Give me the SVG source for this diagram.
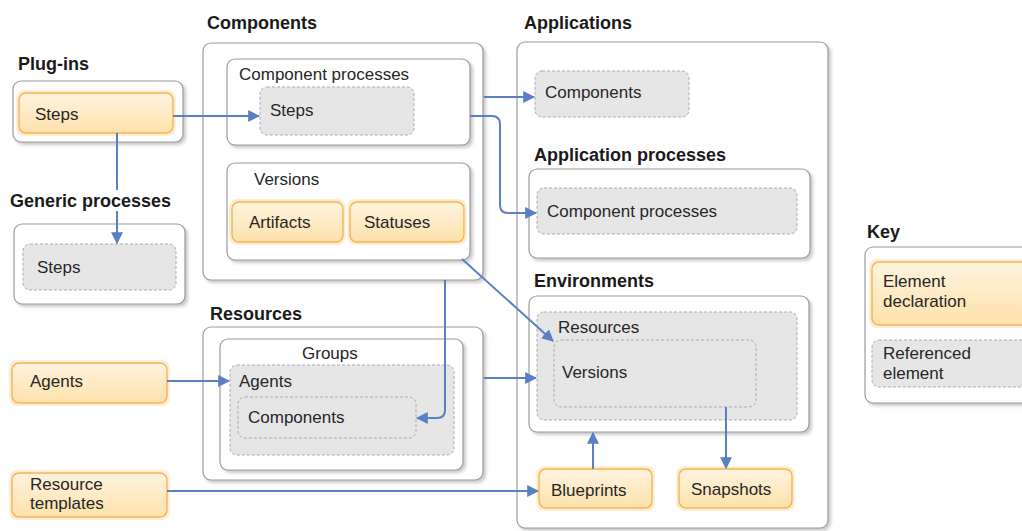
<svg xmlns="http://www.w3.org/2000/svg" width="1022" height="531" viewBox="0 0 1022 531">
  <defs>
    <style>
      .box { fill: #ffffff; stroke: #9c9c9c; stroke-width: 1.2; filter: url(#shadow); }
      .ref { fill: #e6e6e6; stroke: #ababab; stroke-width: 1; stroke-dasharray: 3 2; }
      .decl { fill: url(#orange); stroke: #f5b444; stroke-width: 1.4; filter: url(#glow); }
      .title { font-family: "Liberation Sans", Arial, sans-serif; font-weight: bold; font-size: 18px; fill: #1a1a1a; }
      .lbl { font-family: "Liberation Sans", Arial, sans-serif; font-size: 17px; fill: #262626; }
      .conn { fill: none; stroke: #5a7fc2; stroke-width: 2; }
    </style>
    <linearGradient id="orange" x1="0" y1="0" x2="0" y2="1">
      <stop offset="0" stop-color="#fff3de"/>
      <stop offset="1" stop-color="#fde1ab"/>
    </linearGradient>
    <filter id="shadow" x="-5%" y="-5%" width="115%" height="115%">
      <feDropShadow dx="2.5" dy="2.5" stdDeviation="1.5" flood-color="#8a8a8a" flood-opacity="0.45"/>
    </filter>
    <filter id="glow" x="-10%" y="-20%" width="120%" height="140%">
      <feMorphology in="SourceAlpha" operator="dilate" radius="2" result="d"/>
      <feFlood flood-color="#feead0"/>
      <feComposite in2="d" operator="in" result="g"/>
      <feMerge><feMergeNode in="g"/><feMergeNode in="SourceGraphic"/></feMerge>
    </filter>
    <marker id="arrow" viewBox="0 0 10 10" refX="9" refY="5" markerWidth="6" markerHeight="6" orient="auto" markerUnits="strokeWidth">
      <path d="M0,0 L10,5 L0,10 z" fill="#5a7fc2"/>
    </marker>
  </defs>

  <rect width="1022" height="531" fill="#ffffff"/>

  <!-- Plug-ins -->
  <g id="plugins">
    <text class="title" x="18" y="70">Plug-ins</text>
    <rect class="box" x="13" y="81" width="170" height="61" rx="8"/>
    <g id="plugins-steps">
      <rect class="decl" x="19" y="93" width="154" height="40" rx="7"/>
      <text class="lbl" x="35" y="120">Steps</text>
    </g>
  </g>

  <!-- Generic processes -->
  <g id="generic-processes">
    <text class="title" x="10" y="207">Generic processes</text>
    <rect class="box" x="14" y="224" width="171" height="80" rx="8"/>
    <g id="generic-steps">
      <rect class="ref" x="23" y="244" width="153" height="46" rx="7"/>
      <text class="lbl" x="37" y="273">Steps</text>
    </g>
  </g>

  <!-- Components -->
  <g id="components">
    <text class="title" x="207" y="29">Components</text>
    <rect class="box" x="203" y="43" width="280" height="237" rx="8"/>
    <g id="component-processes">
      <rect class="box" x="227" y="59" width="243" height="86" rx="8"/>
      <text class="lbl" x="239" y="80">Component processes</text>
      <g id="component-steps">
        <rect class="ref" x="260" y="87" width="154" height="48" rx="7"/>
        <text class="lbl" x="270" y="116">Steps</text>
      </g>
    </g>
    <g id="versions">
      <rect class="box" x="227" y="163" width="243" height="97" rx="8"/>
      <text class="lbl" x="254" y="185">Versions</text>
      <g id="artifacts">
        <rect class="decl" x="232" y="202" width="111" height="40" rx="7"/>
        <text class="lbl" x="249" y="228">Artifacts</text>
      </g>
      <g id="statuses">
        <rect class="decl" x="350" y="202" width="114" height="40" rx="7"/>
        <text class="lbl" x="364" y="228">Statuses</text>
      </g>
    </g>
  </g>

  <!-- Resources -->
  <g id="resources">
    <text class="title" x="210" y="320">Resources</text>
    <rect class="box" x="203" y="327" width="280" height="153" rx="8"/>
    <g id="groups">
      <rect class="box" x="220" y="339" width="243" height="131" rx="8"/>
      <text class="lbl" x="302" y="359">Groups</text>
      <g id="group-agents">
        <rect class="ref" x="230" y="365" width="224" height="90" rx="7"/>
        <text class="lbl" x="239" y="387">Agents</text>
      </g>
      <g id="group-components">
        <rect class="ref" x="238" y="397" width="178" height="41" rx="7"/>
        <text class="lbl" x="248" y="423">Components</text>
      </g>
    </g>
  </g>

  <!-- Agents and resource templates -->
  <g id="agents">
    <rect class="decl" x="12" y="363" width="155" height="40" rx="7"/>
    <text class="lbl" x="30" y="387">Agents</text>
  </g>
  <g id="resource-templates">
    <rect class="decl" x="12" y="473" width="155" height="44" rx="7"/>
    <text class="lbl" x="30" y="490">Resource</text>
    <text class="lbl" x="30" y="509">templates</text>
  </g>

  <!-- Applications -->
  <g id="applications">
    <text class="title" x="524" y="29">Applications</text>
    <rect class="box" x="517" y="42" width="311" height="486" rx="8"/>
    <g id="app-components">
      <rect class="ref" x="535" y="71" width="154" height="46" rx="7"/>
      <text class="lbl" x="545" y="98">Components</text>
    </g>
    <g id="application-processes">
      <text class="title" x="534" y="161">Application processes</text>
      <rect class="box" x="529" y="169" width="281" height="89" rx="8"/>
      <g id="app-component-processes">
        <rect class="ref" x="537" y="188" width="260" height="46" rx="7"/>
        <text class="lbl" x="547" y="217">Component processes</text>
      </g>
    </g>
    <g id="environments">
      <text class="title" x="534" y="287">Environments</text>
      <rect class="box" x="529" y="296" width="280" height="136" rx="8"/>
      <g id="env-resources">
        <rect class="ref" x="537" y="312" width="260" height="108" rx="7"/>
        <text class="lbl" x="558" y="333">Resources</text>
      </g>
      <g id="env-versions">
        <rect class="ref" x="554" y="340" width="202" height="67" rx="7"/>
        <text class="lbl" x="562" y="378">Versions</text>
      </g>
    </g>
    <g id="blueprints">
      <rect class="decl" x="539" y="469" width="113" height="39" rx="7"/>
      <text class="lbl" x="551" y="496">Blueprints</text>
    </g>
    <g id="snapshots">
      <rect class="decl" x="679" y="469" width="113" height="39" rx="7"/>
      <text class="lbl" x="691" y="495">Snapshots</text>
    </g>
  </g>

  <!-- Key -->
  <g id="key">
    <text class="title" x="867" y="238">Key</text>
    <rect class="box" x="865" y="247" width="180" height="156" rx="8"/>
    <g id="key-declaration">
      <rect class="decl" x="872" y="262" width="170" height="63" rx="7"/>
      <text class="lbl" x="883" y="287">Element</text>
      <text class="lbl" x="883" y="307">declaration</text>
    </g>
    <g id="key-reference">
      <rect class="ref" x="872" y="340" width="170" height="47" rx="7"/>
      <text class="lbl" x="883" y="359">Referenced</text>
      <text class="lbl" x="883" y="379">element</text>
    </g>
  </g>

  <!-- Connectors -->
  <g id="connectors">
    <path class="conn" d="M173,116 H259" marker-end="url(#arrow)"/>
    <path class="conn" d="M117,133 V190 M117,211 V243" marker-end="url(#arrow)"/>
    <path class="conn" d="M484,97 H534" marker-end="url(#arrow)"/>
    <path class="conn" d="M470,116 H492 Q500,116 500,124 V205 Q500,213 508,213 H536" marker-end="url(#arrow)"/>
    <path class="conn" d="M462,259 L553,341" marker-end="url(#arrow)"/>
    <path class="conn" d="M445,280 V410 Q445,418 437,418 H417" marker-end="url(#arrow)"/>
    <path class="conn" d="M167,381 H229" marker-end="url(#arrow)"/>
    <path class="conn" d="M484,378 H536" marker-end="url(#arrow)"/>
    <path class="conn" d="M167,491 H538" marker-end="url(#arrow)"/>
    <path class="conn" d="M593,469 V433" marker-end="url(#arrow)"/>
    <path class="conn" d="M726,407 V468" marker-end="url(#arrow)"/>
  </g>
</svg>
